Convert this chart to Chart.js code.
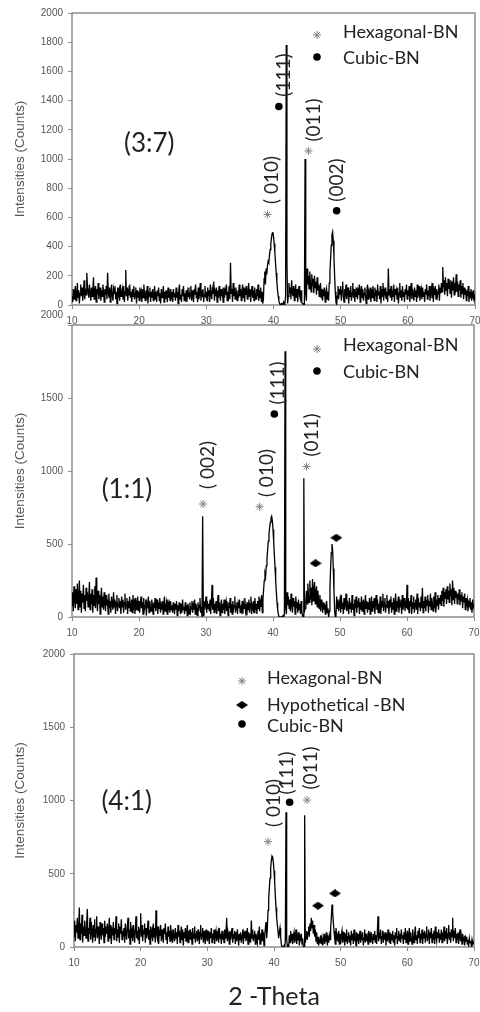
<!DOCTYPE html>
<html>
<head>
<meta charset="utf-8">
<script src="https://cdn.jsdelivr.net/npm/chart.js@4.4.1/dist/chart.umd.min.js"></script>
<style>
html, body { margin: 0; padding: 0; background: #fff; }
#wrap { position: relative; width: 480px; height: 1012px; overflow: hidden; }
canvas { position: absolute; left: 0; }
</style>
</head>
<body>
<div id="wrap">
  <canvas id="p1" width="480" height="325" style="top:0px;width:480px;height:325px"></canvas>
  <canvas id="p2" width="480" height="330" style="top:310px;width:480px;height:330px"></canvas>
  <canvas id="p3" width="480" height="372" style="top:640px;width:480px;height:372px"></canvas>
</div>
<script>
// scan grid, 10 to 70 deg in 0.1 deg steps
const twoTheta = [];
for (let i = 0; i <= 600; i++) twoTheta.push(Math.round((10 + i * 0.1) * 10) / 10);

// intensities (counts), one row = 2.5 degrees
const counts37 = [
  60, 20, 110, 40, 90, 130, 30, 70, 150, 50, 100, 10, 80, 140, 60, 120, 30, 90, 170, 40, 110, 70, 220, 130, 90,
  50, 140, 80, 30, 120, 60, 100, 190, 40, 90, 130, 20, 110, 70, 150, 40, 80, 120, 30, 100, 60, 140, 90, 20, 110,
  70, 130, 40, 220, 90, 50, 120, 20, 100, 140, 60, 30, 110, 80, 130, 40, 90, 10, 120, 70, 100, 30, 140, 60, 80,
  110, 40, 130, 20, 90, 240, 60, 120, 30, 100, 70, 140, 50, 90, 20, 110, 60, 130, 40, 80, 120, 10, 100, 50, 90,
  30, 120, 60, 90, 20, 110, 50, 140, 70, 30, 100, 40, 130, 10, 80, 60, 120, 20, 90, 50, 110, 30, 70, 130, 40,
  90, 20, 100, 60, 120, 30, 80, 10, 110, 50, 70, 130, 20, 90, 40, 100, 60, 20, 120, 50, 80, 30, 110, 40, 90,
  20, 110, 60, 80, 30, 120, 50, 90, 10, 100, 140, 40, 70, 20, 110, 60, 130, 30, 80, 50, 100, 20, 90, 60, 120,
  40, 80, 130, 30, 100, 60, 20, 110, 70, 140, 50, 90, 20, 120, 40, 80, 150, 30, 100, 60, 110, 20, 70, 130, 50,
  90, 30, 120, 60, 100, 20, 140, 70, 40, 110, 80, 160, 30, 90, 60, 120, 20, 100, 50, 130, 70, 30, 110, 60, 90,
  20, 120, 50, 100, 70, 140, 30, 90, 60, 130, 40, 290, 80, 110, 20, 150, 60, 90, 40, 120, 70, 30, 100, 50, 140,
  60, 110, 30, 90, 140, 50, 120, 20, 100, 70, 130, 40, 80, 150, 60, 110, 20, 90, 130, 50, 100, 30, 120, 70, 40,
  110, 60, 140, 30, 100, 50, 120, 20, 90, 10, 40, 180, 230, 140, 250, 210, 270, 300, 290, 340, 380, 420, 460, 490, 500,
  470, 420, 360, 290, 220, 160, 100, 60, 30, 10, 0, 0, 10, 0, 0, 20, 0, 10, 60, 1780, 300, 10, 60, 150, 80,
  120, 40, 170, 90, 60, 130, 30, 100, 140, 50, 110, 20, 90, 130, 60, 40, 100, 20, 10, 10, 0, 0, 1000, 80, 30,
  250, 140, 200, 110, 230, 150, 90, 210, 130, 180, 80, 200, 120, 160, 70, 190, 100, 140, 60, 120, 150, 50, 110, 30, 90,
  60, 120, 20, 80, 110, 40, 90, 30, 150, 230, 320, 410, 480, 500, 440, 330, 200, 90, 20, 0, 60, 130, 40, 110, 70,
  130, 30, 100, 160, 60, 20, 110, 80, 140, 40, 90, 120, 10, 100, 60, 130, 30, 80, 150, 50, 110, 20, 90, 60, 120,
  40, 100, 70, 140, 20, 90, 130, 50, 110, 30, 80, 120, 60, 10, 100, 140, 40, 90, 70, 120, 20, 110, 50, 130, 80,
  30, 120, 60, 100, 20, 140, 70, 90, 40, 130, 10, 110, 60, 150, 30, 100, 80, 120, 40, 90, 20, 250, 70, 110, 50,
  130, 30, 90, 60, 140, 20, 110, 70, 100, 40, 120, 10, 80, 150, 50, 100, 30, 130, 60, 90, 20, 110, 70, 140, 40,
  100, 60, 130, 20, 90, 150, 40, 110, 70, 30, 120, 60, 100, 20, 140, 50, 90, 130, 30, 80, 110, 40, 120, 60, 90,
  20, 110, 70, 140, 40, 100, 60, 130, 30, 90, 120, 50, 150, 20, 100, 70, 130, 40, 110, 60, 90, 140, 30, 120, 80,
  150, 90, 260, 120, 170, 70, 190, 100, 150, 60, 180, 110, 140, 80, 170, 50, 160, 100, 190, 70, 150, 120, 210, 90, 160,
  60, 140, 100, 170, 50, 130, 80, 150, 40, 120, 70, 110, 30, 100, 60, 130, 20, 90, 50, 110, 30, 80, 60, 100, 40,
  70
];
const counts11 = [
  80, 170, 40, 210, 120, 60, 190, 90, 230, 50, 140, 250, 70, 180, 30, 160, 100, 220, 60, 150, 40, 200, 110, 170, 70,
  130, 240, 50, 160, 90, 190, 30, 150, 80, 210, 60, 270, 120, 40, 180, 90, 150, 20, 130, 200, 70, 140, 50, 170, 100,
  40, 150, 80, 120, 20, 160, 60, 110, 30, 140, 90, 50, 170, 70, 120, 20, 100, 150, 40, 90, 130, 60, 110, 20, 140,
  70, 120, 30, 100, 160, 50, 90, 130, 20, 110, 60, 140, 40, 80, 120, 30, 150, 70, 100, 20, 130, 50, 90, 140, 40,
  110, 30, 90, 140, 60, 100, 20, 130, 50, 80, 120, 10, 90, 60, 140, 30, 110, 70, 40, 120, 80, 20, 100, 60, 130,
  40, 90, 120, 20, 100, 60, 130, 30, 80, 50, 110, 20, 90, 140, 40, 70, 100, 20, 120, 60, 90, 30, 110, 50, 80,
  30, 100, 60, 20, 90, 50, 110, 10, 80, 40, 100, 60, 20, 90, 30, 120, 50, 70, 20, 100, 40, 80, 10, 90, 60,
  20, 100, 40, 70, 110, 30, 80, 50, 120, 20, 90, 60, 10, 100, 40, 80, 130, 30, 70, 0, 690, 10, 110, 50, 90,
  140, 30, 110, 60, 90, 40, 120, 20, 100, 220, 50, 130, 30, 90, 60, 110, 20, 80, 150, 40, 100, 10, 70, 120, 30,
  90, 50, 120, 20, 80, 110, 40, 70, 10, 100, 60, 130, 30, 90, 20, 110, 50, 80, 140, 30, 70, 100, 20, 90, 60,
  120, 30, 80, 50, 110, 20, 90, 60, 130, 40, 70, 10, 100, 50, 120, 30, 90, 140, 20, 80, 60, 110, 30, 130, 50,
  90, 20, 110, 60, 140, 40, 100, 70, 150, 30, 120, 190, 250, 300, 280, 350, 400, 460, 520, 570, 610, 650, 680, 690, 660,
  600, 520, 430, 340, 250, 170, 100, 50, 20, 0, 0, 0, 0, 0, 0, 10, 0, 20, 1820, 60, 20, 170, 80, 140, 60,
  120, 40, 160, 90, 30, 130, 70, 110, 20, 140, 60, 100, 30, 120, 50, 90, 20, 110, 40, 10, 0, 950, 40, 60, 110,
  180, 90, 230, 140, 100, 250, 120, 200, 80, 260, 110, 190, 240, 90, 170, 210, 70, 180, 120, 60, 150, 40, 120, 80, 30,
  100, 50, 90, 20, 70, 110, 30, 60, 0, 40, 200, 340, 440, 500, 460, 330, 180, 40, 0, 10, 140, 60, 120, 40, 90,
  120, 30, 150, 60, 100, 20, 130, 50, 90, 160, 40, 110, 70, 20, 130, 60, 100, 30, 150, 50, 90, 10, 120, 60, 140,
  30, 110, 70, 130, 20, 100, 50, 140, 40, 90, 120, 20, 80, 150, 60, 110, 30, 100, 50, 130, 20, 90, 140, 40, 110,
  60, 130, 20, 100, 150, 50, 120, 30, 90, 60, 140, 20, 110, 70, 160, 40, 100, 130, 30, 80, 150, 60, 110, 20, 120,
  70, 140, 30, 100, 50, 130, 20, 90, 160, 40, 110, 60, 140, 30, 100, 70, 120, 20, 150, 50, 90, 130, 40, 110, 60,
  220, 50, 130, 30, 110, 70, 150, 20, 100, 60, 140, 30, 90, 120, 50, 160, 20, 130, 70, 100, 40, 140, 60, 200, 30,
  110, 60, 140, 40, 120, 80, 150, 30, 110, 70, 160, 50, 130, 90, 40, 140, 60, 170, 30, 120, 80, 150, 50, 130, 90,
  150, 80, 180, 110, 200, 70, 170, 130, 190, 90, 210, 120, 180, 100, 230, 140, 190, 80, 250, 120, 200, 90, 180, 130, 170,
  90, 160, 120, 190, 80, 150, 110, 170, 60, 140, 100, 160, 50, 130, 90, 120, 40, 110, 70, 130, 50, 100, 30, 120, 70,
  90
];
const counts41 = [
  70, 180, 40, 150, 100, 200, 60, 130, 270, 50, 160, 90, 220, 30, 140, 80, 180, 120, 60, 160, 260, 40, 130, 90, 200,
  50, 170, 110, 30, 150, 70, 190, 40, 120, 210, 60, 140, 90, 20, 170, 110, 50, 160, 80, 130, 30, 180, 70, 140, 90,
  160, 40, 120, 200, 60, 150, 20, 110, 80, 170, 50, 130, 90, 210, 40, 120, 70, 160, 30, 140, 90, 190, 50, 110, 70,
  130, 30, 160, 90, 50, 140, 200, 60, 120, 20, 170, 80, 110, 40, 150, 90, 30, 130, 210, 60, 110, 50, 140, 20, 120,
  230, 70, 150, 40, 110, 90, 160, 30, 130, 60, 100, 180, 50, 120, 20, 140, 80, 110, 40, 160, 70, 130, 30, 250, 90,
  60, 140, 20, 110, 80, 150, 40, 120, 70, 30, 130, 90, 160, 50, 100, 20, 140, 70, 110, 40, 150, 60, 90, 30, 120,
  80, 40, 130, 60, 100, 20, 150, 70, 110, 30, 90, 140, 50, 120, 10, 100, 60, 130, 40, 90, 150, 30, 110, 70, 120,
  50, 100, 20, 130, 80, 60, 140, 30, 90, 110, 40, 120, 70, 20, 100, 150, 50, 90, 130, 30, 110, 60, 20, 120, 80,
  40, 110, 70, 20, 100, 60, 130, 30, 90, 50, 120, 20, 80, 110, 40, 70, 100, 30, 130, 60, 90, 20, 110, 50, 80,
  30, 120, 60, 90, 200, 40, 100, 70, 20, 110, 50, 90, 130, 30, 80, 60, 110, 20, 100, 40, 120, 70, 10, 90, 50,
  100, 30, 80, 120, 20, 90, 60, 110, 40, 70, 130, 20, 100, 50, 90, 30, 180, 60, 120, 40, 80, 110, 20, 90, 60,
  30, 110, 50, 140, 20, 90, 60, 120, 40, 100, 10, 70, 130, 170, 60, 120, 250, 330, 400, 470, 540, 590, 620, 610, 580,
  520, 440, 350, 270, 200, 150, 110, 60, 100, 130, 70, 20, 0, 0, 0, 10, 0, 40, 920, 60, 0, 10, 0, 80, 30,
  110, 40, 90, 20, 70, 100, 30, 60, 120, 20, 80, 50, 100, 10, 70, 40, 90, 20, 60, 0, 0, 900, 30, 60, 110,
  50, 100, 140, 70, 160, 110, 200, 130, 180, 90, 150, 70, 120, 40, 100, 20, 70, 10, 50, 30, 80, 20, 60, 10, 40,
  90, 20, 70, 40, 100, 10, 60, 30, 80, 50, 130, 200, 290, 240, 170, 110, 60, 20, 130, 60, 80, 40, 110, 20, 90,
  20, 80, 110, 30, 60, 100, 10, 90, 40, 120, 20, 70, 100, 30, 80, 10, 110, 50, 90, 20, 120, 40, 70, 10, 100,
  40, 90, 20, 70, 110, 30, 80, 50, 100, 10, 60, 120, 30, 90, 40, 70, 20, 110, 50, 80, 30, 100, 60, 20, 90,
  50, 110, 30, 80, 20, 100, 210, 40, 90, 60, 120, 20, 70, 110, 30, 80, 50, 100, 10, 90, 40, 120, 60, 30, 100,
  20, 90, 50, 110, 30, 80, 10, 100, 60, 130, 20, 70, 110, 40, 90, 30, 120, 60, 80, 20, 100, 50, 130, 30, 70,
  110, 20, 80, 130, 40, 100, 60, 20, 120, 70, 30, 90, 140, 50, 80, 20, 110, 60, 130, 30, 90, 50, 120, 20, 100,
  60, 110, 30, 90, 140, 40, 80, 120, 20, 100, 60, 130, 30, 90, 50, 110, 20, 140, 70, 40, 100, 60, 120, 30, 90,
  50, 120, 30, 100, 70, 140, 40, 110, 60, 130, 20, 90, 150, 50, 100, 30, 120, 70, 200, 40, 110, 60, 130, 30, 90,
  50, 100, 20, 80, 120, 40, 70, 20, 90, 50, 60, 10, 80, 40, 70, 20, 50, 10, 60, 30, 40, 10, 50, 20, 30,
  20
];

// phase markers [2theta, counts]
const hexMarks37 = [[39.1, 620], [45.2, 1055]];
const cubicMarks37 = [[40.8, 1360], [49.4, 646]];
const hypoMarks37 = [];
const hexMarks11 = [[29.55, 774], [38.0, 755], [45.0, 1030]];
const cubicMarks11 = [[40.2, 1390]];
const hypoMarks11 = [[46.35, 368], [49.45, 543]];
const hexMarks41 = [[39.1, 719], [44.95, 1003]];
const cubicMarks41 = [[42.35, 988]];
const hypoMarks41 = [[46.6, 282], [49.15, 366]];

// plane labels [text, 2theta, counts]
const planes37 = [['( 010)', 39.8, 856], ['(111)', 41.6, 1575], ['(011)', 45.95, 1267], ['(002)', 49.45, 856]];
const planes11 = [['( 002)', 30.3, 1041], ['( 010)', 39.1, 986], ['(111)', 40.7, 1603], ['(011)', 45.75, 1247]];
const planes41 = [['( 010)', 39.93, 983], ['(111)', 42.0, 1188], ['(011)', 45.6, 1222]];

const ratioText = ['(3:7)', '(1:1)', '(4:1)'];
const ratioPos = [[21.5, 1103], [18.2, 870], [17.9, 990]];

function diamondImage(w, h) {
  const c = document.createElement('canvas');
  c.width = w; c.height = h;
  const g = c.getContext('2d');
  g.fillStyle = '#000';
  g.beginPath();
  g.moveTo(0, h / 2); g.lineTo(w / 2, 0); g.lineTo(w, h / 2); g.lineTo(w / 2, h);
  g.closePath(); g.fill();
  return c;
}
const diamond = diamondImage(12, 8);

const markStyle = {
  hex: { pointStyle: 'star', radius: 4, borderWidth: 1, color: '#808080' },
  cubic: { pointStyle: 'circle', radius: 3.8, borderWidth: 0, color: '#000' },
  hypo: { pointStyle: diamond, radius: 6, borderWidth: 0, color: '#000' }
};

function drawMark(ctx, kind, px, py) {
  const s = markStyle[kind];
  ctx.fillStyle = s.color;
  ctx.strokeStyle = s.color;
  ctx.lineWidth = 1;
  Chart.helpers.drawPoint(ctx, { pointStyle: s.pointStyle, radius: s.radius, rotation: 0, borderWidth: s.borderWidth }, px, py);
}

const decor = {
  id: 'decor',
  beforeDatasetsDraw(chart) {
    const { ctx, chartArea: a } = chart;
    ctx.save();
    ctx.strokeStyle = '#8c8c8c';
    ctx.lineWidth = 1.5;
    ctx.strokeRect(a.left, a.top, a.right - a.left, a.bottom - a.top);
    ctx.restore();
  },
  afterDatasetsDraw(chart, args, o) {
    const { ctx, chartArea: a, scales: { x, y } } = chart;
    ctx.save();
    if (o.liftTop) {
      // the top tick label of the middle panel sits above its gridline
      ctx.fillStyle = '#555';
      ctx.font = '10px "Liberation Sans"';
      ctx.textAlign = 'right';
      ctx.textBaseline = 'middle';
      ctx.fillText('2000', a.left - 9, a.top - o.liftTop);
    }
    ctx.fillStyle = '#222';
    ctx.textAlign = 'center';
    ctx.textBaseline = 'middle';
    ctx.font = '26px Lato';
    ctx.fillText(o.ratio, x.getPixelForValue(o.ratioAt[0]), y.getPixelForValue(o.ratioAt[1]));
    ctx.font = '19px Lato';
    o.planes.forEach(([t, px, py]) => {
      ctx.save();
      ctx.translate(x.getPixelForValue(px), y.getPixelForValue(py));
      ctx.rotate(-Math.PI / 2);
      ctx.fillText(t, 0, 0);
      ctx.restore();
    });
    ctx.font = '18px Lato';
    ctx.textAlign = 'left';
    o.legend.rows.forEach(([kind, my, text, ty]) => {
      drawMark(ctx, kind, o.legend.x, my);
      ctx.fillStyle = '#222';
      ctx.fillText(text, o.legend.textX, ty);
    });
    ctx.restore();
  }
};

function markSet(list, kind) {
  const s = markStyle[kind];
  return {
    data: list.map(([x, y]) => ({ x, y })),
    showLine: false,
    pointStyle: s.pointStyle,
    pointRadius: s.radius,
    pointBorderWidth: s.borderWidth,
    pointBackgroundColor: s.color,
    pointBorderColor: s.color
  };
}

function makePanel(id, counts, hex, cubic, hypo, planes, n, cfg) {
  new Chart(document.getElementById(id), {
    type: 'scatter',
    data: {
      datasets: [
        markSet(hex, 'hex'),
        markSet(cubic, 'cubic'),
        markSet(hypo, 'hypo'),
        {
          data: counts.map((c, i) => ({ x: twoTheta[i], y: c })),
          showLine: true,
          borderColor: '#000',
          borderWidth: 1.3,
          pointRadius: 0,
          tension: 0
        }
      ]
    },
    options: {
      responsive: false,
      animation: false,
      events: [],
      layout: { padding: { top: cfg.top, left: 8, right: cfg.right, bottom: 0 } },
      plugins: {
        legend: { display: false },
        tooltip: { enabled: false },
        decor: { ratio: ratioText[n], ratioAt: ratioPos[n], planes, legend: cfg.legend, liftTop: cfg.liftTop || 0 }
      },
      scales: {
        x: {
          type: 'linear', min: 10, max: 70,
          ticks: { stepSize: 10, color: '#555', font: { family: 'Liberation Sans', size: 10 }, padding: 6, maxRotation: 0, autoSkip: false, callback: v => String(v) },
          grid: { drawOnChartArea: false, tickLength: 4, color: '#8c8c8c' },
          border: { display: false },
          title: cfg.xTitle
            ? { display: true, text: '2 -Theta', color: '#222', font: { family: 'Lato', size: 25 }, padding: { top: 0, bottom: 0 } }
            : { display: false },
          afterFit(s) { s.height = cfg.xh; s.paddingLeft = 0; s.paddingRight = 0; }
        },
        y: {
          min: 0, max: 2000,
          ticks: {
            stepSize: cfg.yStep, color: '#555', font: { family: 'Liberation Sans', size: 10 }, padding: 5,
            callback: v => (cfg.liftTop && v === 2000) ? '' : String(v)
          },
          grid: { drawOnChartArea: false, tickLength: 4, color: '#8c8c8c' },
          border: { display: false },
          title: { display: true, text: 'Intensities (Counts)', color: '#555', font: { family: 'Liberation Sans', size: 13.5 }, padding: { top: 4, bottom: 0 } },
          afterFit(s) { s.width = cfg.yw; s.paddingTop = 0; s.paddingBottom = 0; }
        }
      }
    },
    plugins: [decor]
  });
}

makePanel('p1', counts37, hexMarks37, cubicMarks37, hypoMarks37, planes37, 0, {
  top: 13, right: 3, xh: 20, yw: 64, yStep: 200,
  legend: { x: 317, textX: 343, rows: [['hex', 35, 'Hexagonal-BN', 32], ['cubic', 57, 'Cubic-BN', 58]] }
});
makePanel('p2', counts11, hexMarks11, cubicMarks11, hypoMarks11, planes11, 1, {
  top: 15, right: 3, xh: 23, yw: 64, yStep: 500, liftTop: 10,
  legend: { x: 317, textX: 343, rows: [['hex', 39, 'Hexagonal-BN', 35], ['cubic', 61, 'Cubic-BN', 62]] }
});
makePanel('p3', counts41, hexMarks41, cubicMarks41, hypoMarks41, planes41, 2, {
  top: 14, right: 1, xh: 65, yw: 66, yStep: 500, xTitle: true,
  legend: { x: 242, textX: 267, rows: [['hex', 41, 'Hexagonal-BN', 38], ['hypo', 65, 'Hypothetical -BN', 65], ['cubic', 84, 'Cubic-BN', 86]] }
});
</script>
</body>
</html>
